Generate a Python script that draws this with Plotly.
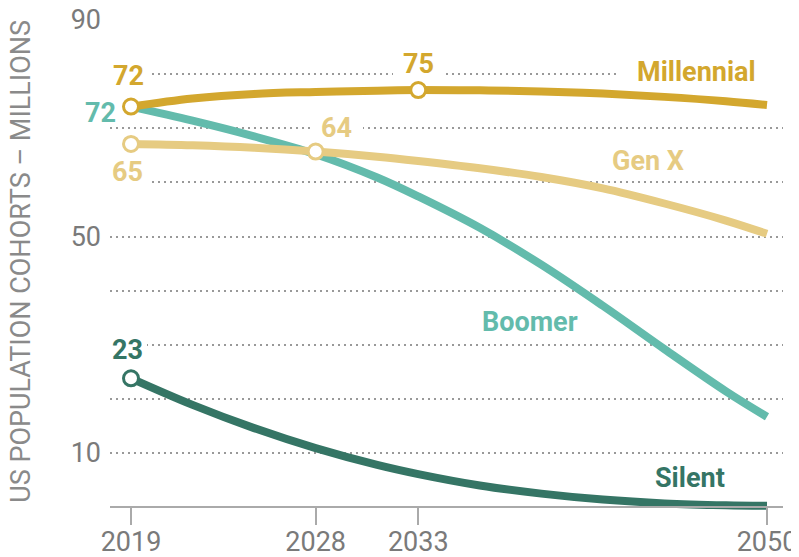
import plotly.graph_objects as go

# ---------------- data ----------------
years = [2019, 2022, 2025, 2028, 2031, 2033, 2036, 2039, 2042, 2045, 2048, 2050]
millennial = [74.0, 75.5, 76.35, 76.7, 76.95, 77.05, 77.0, 76.8, 76.4, 75.8, 75.0, 74.3]
gen_x = [67.1, 66.85, 66.4, 65.7, 64.75, 63.95, 62.6, 61.0, 58.9, 56.1, 52.95, 50.5]
boomer = [74.0, 71.4, 68.5, 65.2, 60.9, 57.4, 51.6, 44.8, 37.2, 29.2, 21.4, 16.7]
silent = [23.8, 18.9, 14.6, 10.9, 7.8, 6.1, 4.0, 2.5, 1.4, 0.7, 0.35, 0.25]

x_ticks = [2019, 2028, 2033, 2050]
y_ticks = [10, 20, 30, 40, 50, 60, 70, 80, 90]
y_ticktext = ["10", "", "", "", "50", "", "", "", "90"]

# labelled points: (year, label text)
mill_labels = [(2019, "72"), (2033, "75")]
genx_labels = [(2019, "65"), (2028, "64")]
boom_labels = [(2019, "72")]
silent_labels = [(2019, "23")]

C_MILL = "#D3A72E"
C_GENX = "#E6CB82"
C_BOOM = "#63BBAC"
C_SIL = "#357565"
FONT = "Roboto"

# ---------------- geometry helpers ----------------
OFF = 8  # page body margin offset
PX_L, PX_R = 110, 783
PX_T, PX_B = 20, 518.3
PX_2019, PX_2050 = 131, 767
ppy = (PX_2050 - PX_2019) / (2050 - 2019)
x_range = [2019 - (PX_2019 - PX_L) / ppy, 2050 + (PX_R - PX_2050) / ppy]
y_range = [-2, 90]


def yr(px):
    return 2019 + (px - PX_2019) / ppy


def val(series, year):
    return series[years.index(year)]


fig = go.Figure()

series = [("Silent", silent, C_SIL), ("Boomer", boomer, C_BOOM),
          ("Gen X", gen_x, C_GENX), ("Millennial", millennial, C_MILL)]
for name, ys, col in series:
    fig.add_trace(go.Scatter(x=years, y=ys, mode="lines", name=name,
                             line=dict(color=col, width=8, shape="spline", smoothing=1.0),
                             hoverinfo="skip"))

# markers (open circles)
for ys, col, labs in [(silent, C_SIL, silent_labels), (gen_x, C_GENX, genx_labels),
                      (millennial, C_MILL, mill_labels)]:
    mx = [l[0] for l in labs]
    my = [val(ys, x) for x in mx]
    fig.add_trace(go.Scatter(x=mx, y=my, mode="markers", cliponaxis=False,
                             marker=dict(size=15, color="white",
                                         line=dict(color=col, width=3)),
                             hoverinfo="skip"))

# value labels
label_specs = [
    (millennial, C_MILL, mill_labels[0], -3, 31),
    (millennial, C_MILL, mill_labels[1], 0, 26),
    (boomer, C_BOOM, boom_labels[0], -31, -6),
    (gen_x, C_GENX, genx_labels[0], -4, -28),
    (gen_x, C_GENX, genx_labels[1], 21, 24),
    (silent, C_SIL, silent_labels[0], -4, 28),
]
for ys, col, (x, txt), dx, dy in label_specs:
    fig.add_annotation(x=x, y=val(ys, x), text=f"<b>{txt}</b>", showarrow=False,
                       xshift=dx, yshift=dy, xanchor="center", yanchor="middle",
                       font=dict(family=FONT, size=27, color=col))

# series name labels
name_specs = [("Millennial", C_MILL, yr(696), 80.4),
              ("Gen X", C_GENX, yr(648), 63.9),
              ("Boomer", C_BOOM, yr(530), 34.2),
              ("Silent", C_SIL, yr(690), 5.4)]
for txt, col, x, y in name_specs:
    fig.add_annotation(x=x, y=y, text=f"<b>{txt}</b>", showarrow=False,
                       xanchor="center", yanchor="middle",
                       font=dict(family=FONT, size=27, color=col))

# white masks cutting the dotted gridlines behind labels
masks = [(80, 105, 150), (80, 393, 442), (80, 618, 800),
         (70, 310, 363), (60, 105, 151), (30, 105, 147)]
for gv, p0, p1 in masks:
    fig.add_shape(type="rect", xref="x", yref="y", x0=yr(p0), x1=yr(p1),
                  y0=gv - 1.0, y1=gv + 1.0, fillcolor="white",
                  line=dict(width=0), layer="between")

# y-axis title
fig.add_annotation(xref="paper", yref="paper", x=(21 - PX_L) / (PX_R - PX_L),
                   y=(PX_B - 262) / (PX_B - PX_T),
                   text="US POPULATION COHORTS – MILLIONS", textangle=-90,
                   showarrow=False, xanchor="center", yanchor="middle",
                   font=dict(family=FONT, size=27, color="#8a8a8a"))

fig.update_layout(
    width=799, height=557,
    margin=dict(l=PX_L - OFF, r=799 - (PX_R - OFF), t=PX_T - OFF,
                b=557 - (PX_B - OFF), autoexpand=False),
    paper_bgcolor="white", plot_bgcolor="white",
    showlegend=False,
    font=dict(family=FONT),
    xaxis=dict(range=x_range, tickvals=x_ticks, ticktext=[str(t) for t in x_ticks],
               showgrid=False, zeroline=False, showline=True, linecolor="#aaaaaa",
               linewidth=1.5, ticks="outside", ticklen=17, tickwidth=1.5,
               tickcolor="#aaaaaa", anchor="free", automargin=False,
               ticklabelstandoff=-6, ticklabeloverflow="allow",
               position=(0 - y_range[0]) / (y_range[1] - y_range[0]),
               tickfont=dict(family=FONT, size=27, color="#7a7a7a")),
    yaxis=dict(range=y_range, tickvals=y_ticks, ticktext=y_ticktext, automargin=False,
               showgrid=True, gridcolor="#999999", gridwidth=2, griddash="2px,4px",
               zeroline=False, showline=False, ticks="", ticklabelstandoff=8,
               ticklabeloverflow="allow",
               tickfont=dict(family=FONT, size=27, color="#7a7a7a")),
)

fig.write_html("out.html")
